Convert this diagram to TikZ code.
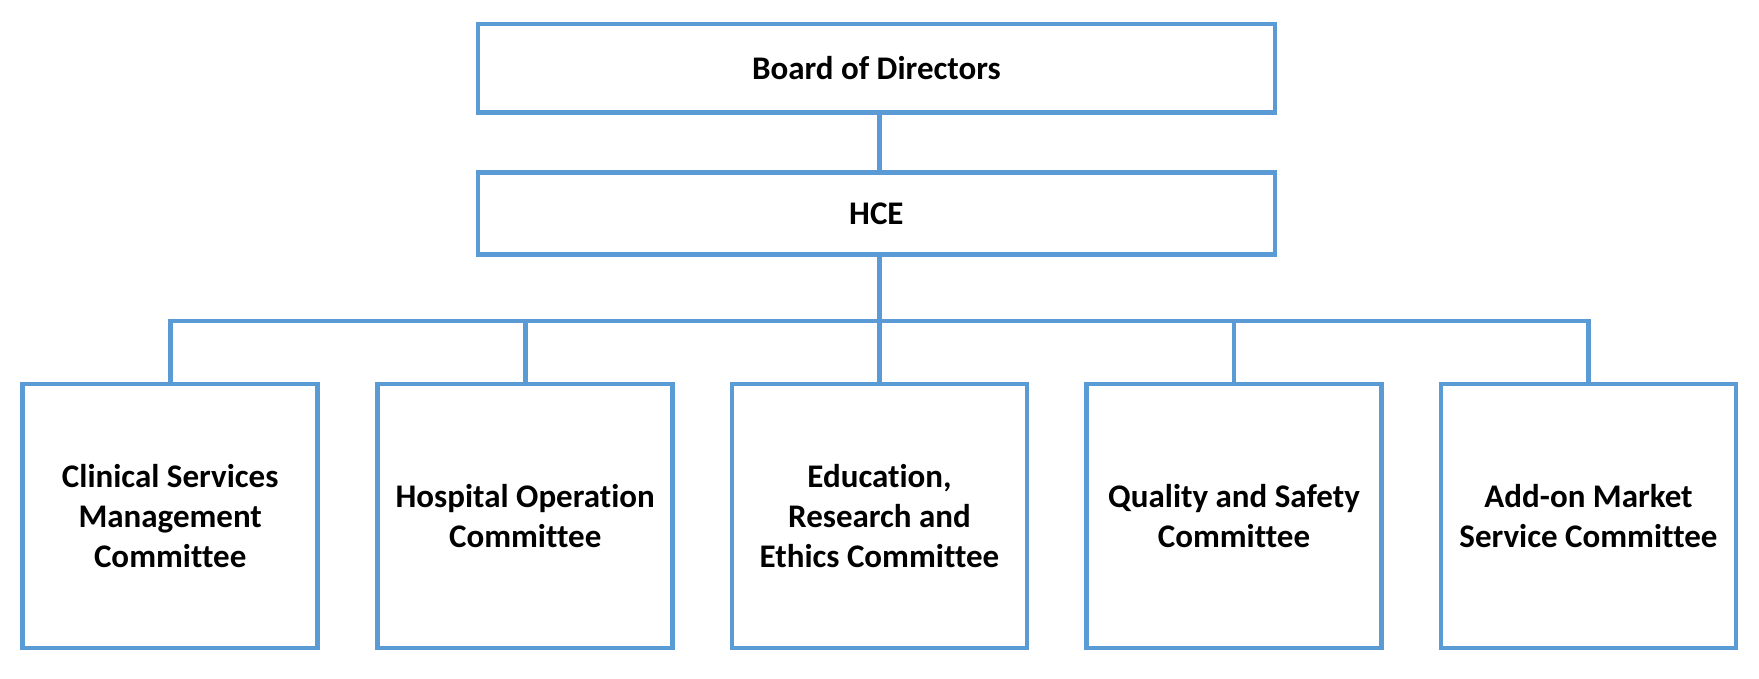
\documentclass[tikz,border=0pt]{standalone}
\usepackage{fontspec}
\setmainfont{Carlito}[Ligatures={NoCommon}]
\definecolor{boxblue}{HTML}{5B9BD5}
\begin{document}
\begin{tikzpicture}[x=1pt,y=-1pt,
  orgbox/.style={draw=boxblue, line width=4.8pt, fill=white, inner sep=0pt, outer sep=0pt,
    align=center, font=\fontsize{33}{40}\selectfont\bfseries, text=black},
  topbox/.style={orgbox, minimum width=797pt},
  subbox/.style={orgbox, minimum width=295pt, minimum height=264pt},
  conn/.style={draw=boxblue, line width=4.8pt, line join=miter}]
\useasboundingbox (0,0) rectangle (1759,678);
\fill[white] (0,0) rectangle (1759,678);
\node[topbox, minimum height=88.7pt] (board) at (876.4,68.35) {Board of Directors};
\node[topbox, minimum height=81.8pt] (hce) at (876.4,213.6) {HCE};
\node[subbox] (c1) at (170.2,516) {Clinical Services\\Management\\Committee};
\node[subbox] (c2) at (525.2,516) {Hospital Operation\\Committee};
\node[subbox] (c3) at (879.5,516) {Education,\\Research and\\Ethics Committee};
\node[subbox] (c4) at (1234,516) {Quality and Safety\\Committee};
\node[subbox] (c5) at (1588.5,516) {Add-on Market\\Service Committee};
\coordinate (bus) at (879.5,321);
\draw[conn] (board.south -| c3.north) -- (hce.north -| c3.north);
\draw[conn] (hce.south -| c3.north) -- (c3.north);
\draw[conn] (c1.north) -- (c1.north |- bus) -- (c5.north |- bus) -- (c5.north);
\draw[conn] (c2.north) -- (c2.north |- bus);
\draw[conn] (c4.north) -- (c4.north |- bus);
\end{tikzpicture}
\end{document}
